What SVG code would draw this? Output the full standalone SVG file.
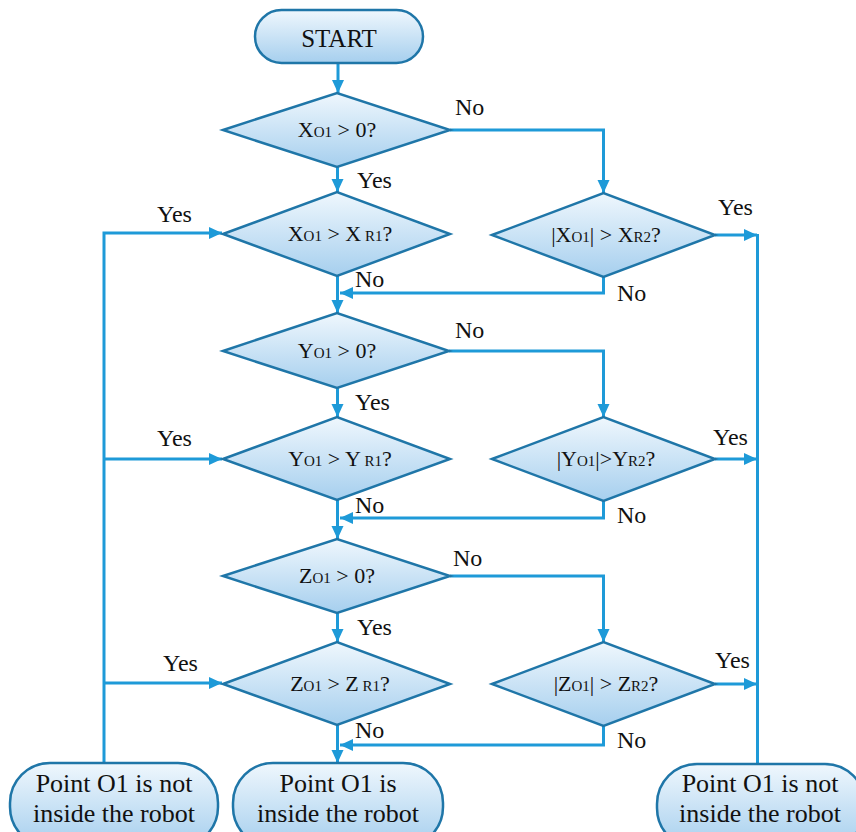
<svg xmlns="http://www.w3.org/2000/svg" width="856" height="832" viewBox="0 0 856 832">
<defs>
<linearGradient id="g" x1="0" y1="0" x2="0" y2="1">
<stop offset="0" stop-color="#EFF7FD"/>
<stop offset="1" stop-color="#A6CFEE"/>
</linearGradient>
<marker id="ah" markerUnits="userSpaceOnUse" markerWidth="14" markerHeight="14" refX="13" refY="7" orient="auto">
<path d="M0,1 L13,7 L0,13 Z" fill="#1E9AD8"/>
</marker>
<style>
.n{fill:url(#g);stroke:#1F76A8;stroke-width:2.5}
.c{fill:none;stroke:#1E9AD8;stroke-width:3}
.a{marker-end:url(#ah)}
text{font-family:"Liberation Serif","Times New Roman",serif;fill:#111}
.t{font-size:25px;text-anchor:middle}
.b{font-size:26px;text-anchor:middle}
.d{font-size:22px;text-anchor:middle}
.l{font-size:24px}
.s{font-size:15px}
</style>
</defs>
<rect width="856" height="832" fill="#fff"/>
<g id="connectors">
<path class="c a" d="M338,63 V93"/>
<path class="c a" d="M337.5,167 V192"/>
<path class="c a" d="M337.5,276 V313"/>
<path class="c a" d="M337.5,388 V417"/>
<path class="c a" d="M337.5,500 V539"/>
<path class="c a" d="M337.5,613 V642"/>
<path class="c a" d="M337.5,725 V763"/>
<path class="c a" d="M450,130 H603.5 V193"/>
<path class="c a" d="M449,351 H603.5 V417"/>
<path class="c a" d="M450,576 H603.5 V642"/>
<path class="c a" d="M603.5,277 V293 H340"/>
<path class="c a" d="M603.5,501 V518 H340"/>
<path class="c a" d="M603.5,726 V745 H340"/>
<path class="c a" d="M104,763 V233 H222"/>
<path class="c a" d="M104,459 H222"/>
<path class="c a" d="M104,683 H222"/>
<path class="c a" d="M715,235 H757"/>
<path class="c a" d="M715,459 H757"/>
<path class="c a" d="M715,684 H757"/>
<path class="c" d="M757.5,234 V765"/>
<text class="l" x="455" y="115">No</text>
<text class="l" x="357" y="188">Yes</text>
<text class="l" x="157" y="222">Yes</text>
<text class="l" x="355" y="287">No</text>
<text class="l" x="718" y="215">Yes</text>
<text class="l" x="617" y="301">No</text>
<text class="l" x="455" y="338">No</text>
<text class="l" x="355" y="410">Yes</text>
<text class="l" x="157" y="446">Yes</text>
<text class="l" x="355" y="513">No</text>
<text class="l" x="713" y="445">Yes</text>
<text class="l" x="617" y="523">No</text>
<text class="l" x="453" y="566">No</text>
<text class="l" x="357" y="635">Yes</text>
<text class="l" x="163" y="671">Yes</text>
<text class="l" x="355" y="738">No</text>
<text class="l" x="715" y="668">Yes</text>
<text class="l" x="617" y="748">No</text>
</g>
<g id="start">
<rect class="n" x="255" y="10" width="168" height="53" rx="26.5"/>
<text class="t" x="339" y="47">START</text>
</g>
<g id="d1">
<polygon class="n" points="223,130 337,93 450,130 337,167"/>
<text class="d" x="337" y="137">X<tspan class="s">O1</tspan> &gt; 0?</text>
</g>
<g id="d2">
<polygon class="n" points="223,234 337,192 450,234 337,276"/>
<text class="d" x="340" y="241">X<tspan class="s">O1</tspan> &gt; X<tspan class="s"> R1</tspan>?</text>
</g>
<g id="r1">
<polygon class="n" points="492,235 603.5,193 715,235 603.5,277"/>
<text class="d" x="606" y="242">|X<tspan class="s">O1</tspan>| &gt; X<tspan class="s">R2</tspan>?</text>
</g>
<g id="d3">
<polygon class="n" points="223,351 337,313 449,351 337,388"/>
<text class="d" x="337" y="358">Y<tspan class="s">O1</tspan> &gt; 0?</text>
</g>
<g id="d4">
<polygon class="n" points="223,459 337,417 450,459 337,500"/>
<text class="d" x="340" y="466">Y<tspan class="s">O1</tspan> &gt; Y<tspan class="s"> R1</tspan>?</text>
</g>
<g id="r2">
<polygon class="n" points="492,459 603.5,417 715,459 603.5,501"/>
<text class="d" x="606" y="466">|Y<tspan class="s">O1</tspan>|&gt;Y<tspan class="s">R2</tspan>?</text>
</g>
<g id="d5">
<polygon class="n" points="223,576 337,539 450,576 337,613"/>
<text class="d" x="337" y="583">Z<tspan class="s">O1</tspan> &gt; 0?</text>
</g>
<g id="d6">
<polygon class="n" points="223,684 337,642 450,684 337,725"/>
<text class="d" x="340" y="691">Z<tspan class="s">O1</tspan> &gt; Z<tspan class="s"> R1</tspan>?</text>
</g>
<g id="r3">
<polygon class="n" points="492,684 603.5,642 715,684 603.5,726"/>
<text class="d" x="606" y="691">|Z<tspan class="s">O1</tspan>| &gt; Z<tspan class="s">R2</tspan>?</text>
</g>
<g id="out-left">
<rect class="n" x="10" y="763" width="208" height="84" rx="40"/>
<text class="b" x="114" y="792">Point O1 is not</text>
<text class="b" x="114" y="822">inside the robot</text>
</g>
<g id="in-mid">
<rect class="n" x="233" y="763" width="210" height="84" rx="40"/>
<text class="b" x="338" y="792">Point O1 is</text>
<text class="b" x="338" y="822">inside the robot</text>
</g>
<g id="out-right">
<rect class="n" x="657" y="764" width="208" height="84" rx="40"/>
<text class="b" x="760" y="792">Point O1 is not</text>
<text class="b" x="760" y="822">inside the robot</text>
</g>
</svg>
